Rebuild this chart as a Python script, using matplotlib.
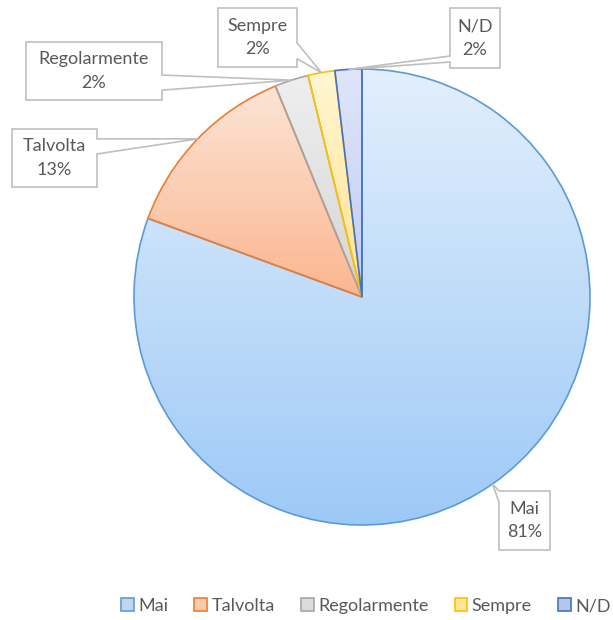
import numpy as np
import matplotlib
matplotlib.use("Agg")
import matplotlib.pyplot as plt
from matplotlib.colors import LinearSegmentedColormap
from matplotlib.patches import Patch, Polygon

# ─── DATA ───────────────────────────────────────────────────────────────────
categories = ["Mai", "Talvolta", "Regolarmente", "Sempre", "N/D"]
values = [80.6, 13.2, 2.4, 1.9, 1.9]

# edge colour, gradient top, gradient bottom
EDGE = ["#5B9BD5", "#ED7D31", "#A5A5A5", "#FFC000", "#4472C4"]
TOP = ["#E3EFFC", "#FCE4D6", "#EFEFEF", "#FFF6D2", "#DFE5F9"]
BOT = ["#9DC9F7", "#FBB68F", "#D5D5D5", "#FFE38F", "#BFCCF4"]
LEG_FILL = ["#BDD7EE", "#F8CBAD", "#DBDBDB", "#FFE699", "#B4C7E7"]

TEXT_C = "#595959"
BOX_C = "#BFBFBF"
FONT = "Lato"
FS = 13

# pixel geometry of the reference
W, H = 613, 620
CX, CY, R = 362, 297, 228


def px(x, y):
    return (x - CX) / R, (CY - y) / R


# label boxes: (x0, y0, x1, y1) in pixels, pointer side, pointer span (fraction from top)
BOXES = {
    "Mai": ((499, 491, 550, 550), "left", (0.0, 0.19)),
    "Talvolta": ((12, 129, 97, 187), "right", (0.17, 0.43)),
    "Regolarmente": ((26, 42, 162, 100), "right", (0.57, 0.83)),
    "Sempre": ((218, 8, 297, 67), "right", (0.59, 0.86)),
    "N/D": ((450, 8, 500, 68), "left", (0.80, 0.90)),
}

fig = plt.figure(figsize=(W / 100, H / 100), dpi=100)
ax = fig.add_axes([0, 0, 1, 1])
x0, y0 = px(0, H)
x1, y1 = px(W, 0)

wedges, _ = ax.pie(values, startangle=90, counterclock=False, radius=1,
                   center=(0, 0), frame=True,
                   wedgeprops=dict(linewidth=1.2))

grad = np.linspace(0, 1, 256).reshape(-1, 1)
for i, w in enumerate(wedges):
    w.set_facecolor("none")
    w.set_edgecolor(EDGE[i])
    w.set_zorder(3)
    verts = w.get_path().vertices
    bx0, by0 = verts.min(axis=0)
    bx1, by1 = verts.max(axis=0)
    cmap = LinearSegmentedColormap.from_list(f"g{i}", [TOP[i], BOT[i]])
    im = ax.imshow(grad, cmap=cmap, extent=(bx0, bx1, by0, by1),
                   origin="upper", aspect="auto", zorder=2,
                   interpolation="bilinear")
    im.set_clip_path(w)

ax.set_xlim(x0, x1)
ax.set_ylim(y0, y1)
ax.set_aspect("auto")
ax.axis("off")

# ─── CALLOUT LABELS ─────────────────────────────────────────────────────────
for i, w in enumerate(wedges):
    name = categories[i]
    (bx0, by0, bx1, by1), side, (fa, fb) = BOXES[name]
    mid = np.deg2rad((w.theta1 + w.theta2) / 2)
    tip = (np.cos(mid), np.sin(mid))
    left, top = px(bx0, by0)
    right, bottom = px(bx1, by1)
    h = top - bottom
    ya, yb = top - fa * h, top - fb * h
    if side == "right":
        pts = [(left, top), (right, top), (right, ya), tip, (right, yb),
               (right, bottom), (left, bottom)]
    else:
        pts = [(left, top), (right, top), (right, bottom), (left, bottom),
               (left, yb), tip, (left, ya)]
    ax.add_patch(Polygon(pts, closed=True, facecolor="white", edgecolor=BOX_C,
                         linewidth=1.2, zorder=4))
    ax.text((left + right) / 2, (top + bottom) / 2,
            f"{name}\n{round(values[i])}%", ha="center", va="center",
            fontsize=FS, color=TEXT_C, family=FONT, linespacing=1.6, zorder=5)

# ─── LEGEND ─────────────────────────────────────────────────────────────────
handles = [Patch(facecolor=LEG_FILL[i], edgecolor=EDGE[i], linewidth=1.2,
                 label=categories[i]) for i in range(len(categories))]
fig.legend(handles=handles, loc="center", bbox_to_anchor=(366 / W, 1 - 606 / H),
           ncol=5, frameon=False, handlelength=0.7, handleheight=0.7,
           handletextpad=0.25, columnspacing=1.45,
           prop=dict(family=FONT, size=FS), labelcolor=TEXT_C)

fig.savefig("out.png", dpi=100)
